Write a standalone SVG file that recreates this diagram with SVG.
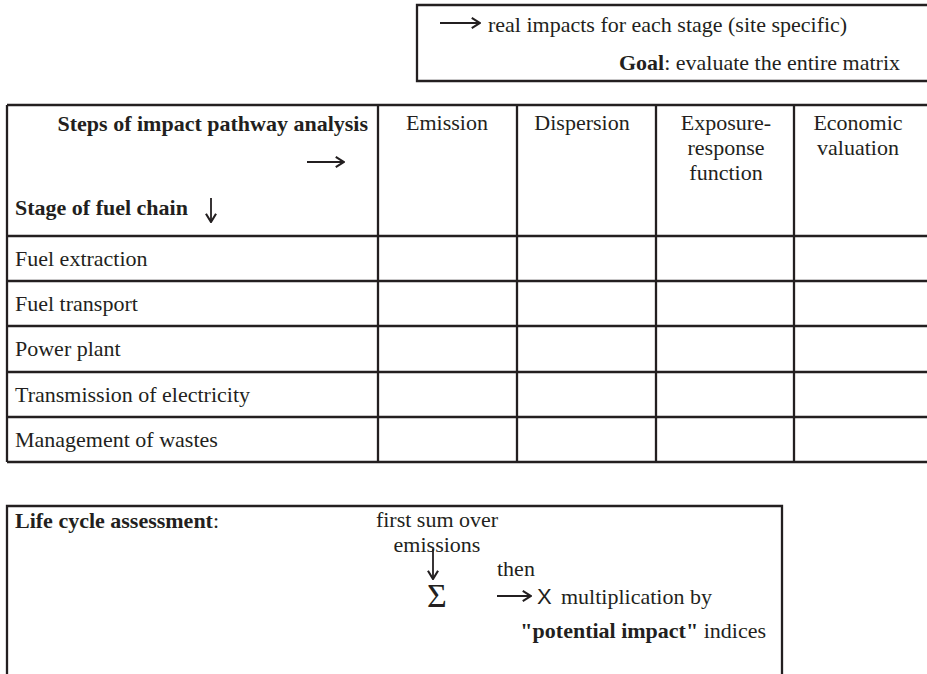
<svg xmlns="http://www.w3.org/2000/svg" width="927" height="674" viewBox="0 0 927 674">
<style>
.ln{fill:none;stroke:#231f20;stroke-width:2.3}
.t{font-family:"Liberation Serif","Times New Roman",serif;font-size:22px;fill:#231f20}
.b{font-weight:bold}
.m{text-anchor:middle}
.e{text-anchor:end}
.ar{fill:none;stroke:#231f20;stroke-width:1.8}
</style>
<defs>
<marker id="head" viewBox="0 0 12 14" refX="10.5" refY="7" markerWidth="11" markerHeight="13" markerUnits="userSpaceOnUse" orient="auto">
<path d="M1.5,1.5 L10.5,7 L1.5,12.5" fill="none" stroke="#231f20" stroke-width="2.3" stroke-linejoin="miter"/>
</marker>
</defs>
<rect width="927" height="674" fill="#ffffff"/>

<g id="goal-box">
<path class="ln" d="M928,5 H417 V81 H928"/>
<text class="t" x="488" y="32">real impacts for each stage (site specific)</text>
<text class="t e" x="900" y="70"><tspan class="b">Goal</tspan>: evaluate the entire matrix</text>
</g>

<g id="matrix">
<path class="ln" d="M7,105 H928 M7,236 H928 M7,281 H928 M7,326 H928 M7,372 H928 M7,417 H928 M7,462 H928 M7,105 V462 M378,105 V462 M517,105 V462 M656,105 V462 M794,105 V462"/>
<text class="t b e" x="368" y="131">Steps of impact pathway analysis</text>
<text class="t b" x="15" y="215">Stage of fuel chain</text>
<text class="t m" x="447" y="130">Emission</text>
<text class="t m" x="582" y="130">Dispersion</text>
<text class="t m" x="726" y="130">Exposure-</text>
<text class="t m" x="726" y="155">response</text>
<text class="t m" x="726" y="180">function</text>
<text class="t m" x="858" y="130">Economic</text>
<text class="t m" x="858" y="155">valuation</text>
<text class="t" x="15" y="266">Fuel extraction</text>
<text class="t" x="15" y="311">Fuel transport</text>
<text class="t" x="15" y="356">Power plant</text>
<text class="t" x="15" y="402">Transmission of electricity</text>
<text class="t" x="15" y="447">Management of wastes</text>
</g>

<g id="lca-box">
<path class="ln" d="M7,675 V506 H782 V675"/>
<text class="t" x="15" y="528"><tspan class="b">Life cycle assessment</tspan>:</text>
<text class="t m" x="437" y="527">first sum over</text>
<text class="t m" x="437" y="552">emissions</text>
<text class="t" x="497" y="576">then</text>
<text class="t m" x="437" y="607" style="font-size:34px">Σ</text>
<text x="537" y="604" style="font-family:'Liberation Sans',Arial,sans-serif;font-size:22px;fill:#231f20">X</text>
<text class="t" x="561" y="604">multiplication by</text>
<text class="t e" x="766" y="638"><tspan class="b">"potential impact"</tspan> indices</text>
</g>

<g id="connectors">
<path class="ar" d="M440,23 H480" marker-end="url(#head)"/>
<path class="ar" d="M307,162 H344" marker-end="url(#head)"/>
<path class="ar" d="M211,198 V222" marker-end="url(#head)"/>
<path class="ar" d="M433,549 V579" marker-end="url(#head)"/>
<path class="ar" d="M497,596 H531" marker-end="url(#head)"/>
</g>
</svg>
